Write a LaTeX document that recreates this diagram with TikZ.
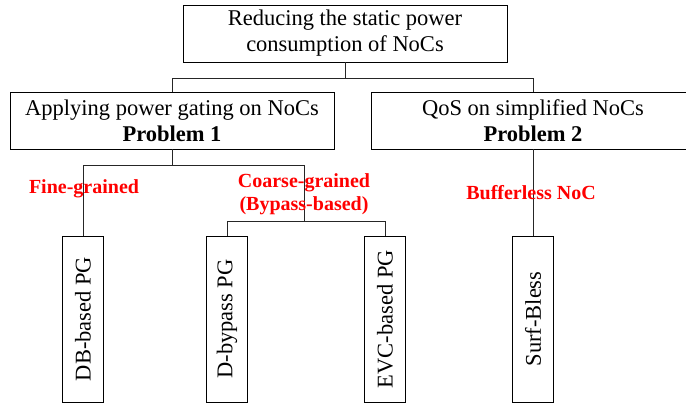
\documentclass[tikz,border=0pt]{standalone}
\usepackage{fontspec}
\setmainfont{Liberation Serif}
\begin{document}
\begin{tikzpicture}[x=1pt,y=1pt,
  box/.style={draw, line width=0.8pt, minimum width=324pt, minimum height=57pt, inner sep=0pt, align=center, font=\fontsize{22.5}{26}\selectfont},
  vbox/.style={draw, line width=0.8pt, minimum width=41pt, minimum height=166pt, inner sep=0pt, font=\fontsize{22.5}{26}\selectfont},
  tag/.style={text=red, align=center, font=\fontsize{20}{23}\selectfont\bfseries},
  link/.style={line width=0.8pt, draw=black!85}]
\useasboundingbox (0,0) rectangle (686,404);

% Root
\node[box] (root) at (345,370.5) {Reducing the static power\\consumption of NoCs};

% Problems
\node[box] (pg) at (172,283.5) {Applying power gating on NoCs\\\textbf{Problem 1}};
\node[box] (qos) at (533,283.5) {QoS on simplified NoCs\\\textbf{Problem 2}};

% Techniques (vertical boxes)
\foreach \n/\x/\lab in {db/83/DB-based PG, dbp/227/D-bypass PG, evc/385/EVC-based PG, surf/533/Surf-Bless} {
    \node[vbox] (\n) at (\x,85) {\rotatebox{90}{\lab}};
}

% Tree links
\draw[link] (root.south) -- ++(0,-16) -| (pg.north);
\draw[link] (root.south) -- ++(0,-16) -| (qos.north);
\draw[link] (pg.south) -- ++(0,-16) -| (db.north);
\coordinate (cg) at (304,183);
\draw[link] (pg.south) -- ++(0,-16) -| (cg);
\draw[link] (cg) -| (dbp.north);
\draw[link] (cg) -| (evc.north);
\draw[link] (qos.south) -- (surf.north);

% Categories
\node[tag] (fine) at (84,215) {Fine-grained};
\node[tag] (coarse) at (304,210) {Coarse-grained\\(Bypass-based)};
\node[tag] (bless) at (531,211) {Bufferless NoC};
\end{tikzpicture}
\end{document}
